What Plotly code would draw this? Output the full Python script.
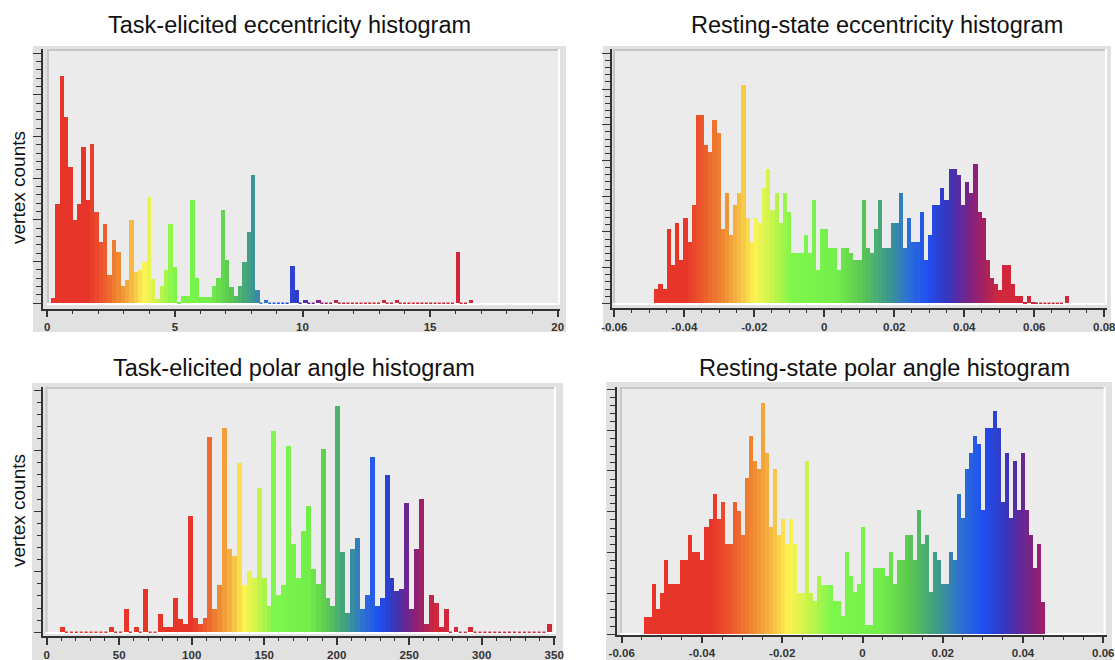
import numpy as np
import plotly.graph_objects as go
from plotly.colors import sample_colorscale

W, H = 1115, 660

# ---------------- histogram data ----------------
# Task-elicited eccentricity (degrees)
task_ecc_start = 0.13
task_ecc_width = 0.1705
task_ecc_counts = [
    6, 119, 273, 224, 164, 100, 119, 187, 124, 191, 109, 73, 95, 34, 76, 61,
    21, 28, 100, 38, 40, 49, 127, 29, 5, 21, 40, 95, 43, 1, 9, 9,
    124, 30, 7, 7, 7, 21, 30, 112, 52, 19, 9, 21, 49, 85, 154, 16,
    0, 4, 0, 0, 0, 0, 0, 45, 16, 0, 4, 0, 0, 4, 0, 0,
    0, 4, 0, 0, 0, 0, 0, 0, 0, 0, 0, 0, 4, 0, 0, 4,
    0, 0, 0, 0, 0, 0, 0, 0, 0, 0, 0, 0, 0, 61, 0, 0, 4,
]

# Resting-state eccentricity (correlation difference)
rest_ecc_start = -0.0487
rest_ecc_width = 0.001184
rest_ecc_counts = [
    20, 27, 20, 104, 53, 112, 61, 119, 86, 137,
    263, 263, 221, 212, 256, 238, 104, 154, 96, 137,
    154, 305, 119, 86, 119, 112, 162, 188, 131, 154,
    112, 154, 128, 71, 71, 71, 96, 71, 145, 47,
    104, 104, 78, 78, 47, 78, 78, 70, 61, 61,
    145, 78, 70, 104, 145, 78, 78, 112, 112, 154,
    78, 119, 86, 86, 128, 61, 96, 137, 137, 162,
    145, 188, 188, 180, 137, 170, 154, 195, 128, 119,
    61, 35, 27, 19, 53, 53, 27, 10, 10, 1,
    10, 2, 0, 0, 0, 0, 0, 0, 0, 10,
]

# Task-elicited polar angle (degrees)
task_pol_start = 9.2
task_pol_width = 3.395
task_pol_counts = [
    4, 0, 0, 0, 0, 0, 0, 0, 0, 0,
    4, 0, 0, 19, 0, 4, 0, 36, 0, 0,
    15, 4, 4, 28, 11, 7, 96, 12, 7, 12,
    161, 19, 39, 169, 69, 63, 140, 39, 51, 45,
    119, 45, 22, 166, 31, 39, 154, 73, 45, 84,
    104, 52, 40, 151, 28, 22, 187, 66, 16, 69,
    78, 19, 31, 145, 22, 28, 130, 45, 34, 36,
    107, 19, 69, 110, 7, 31, 24, 4, 19, 0,
    4, 0, 0, 4, 0, 0, 0, 0, 0, 0,
    0, 0, 0, 0, 0, 0, 0, 0, 0, 7,
]

# Resting-state polar angle (correlation difference)
rest_pol_start = -0.0544
rest_pol_width = 0.000997
rest_pol_counts = [
    21, 21, 62, 31, 51, 91, 62, 62, 62, 91,
    91, 122, 101, 101, 91, 131, 141, 172, 141, 162,
    111, 111, 162, 151, 121, 192, 243, 212, 202, 283,
    222, 131, 202, 121, 141, 111, 141, 111, 51, 51,
    212, 51, 41, 71, 60, 60, 60, 41, 41, 22,
    101, 71, 52, 61, 132, 11, 11, 81, 81, 81,
    71, 101, 61, 91, 91, 121, 121, 91, 152, 111,
    121, 52, 101, 91, 61, 61, 101, 91, 172, 142,
    202, 222, 243, 233, 152, 253, 253, 273, 253, 162,
    222, 142, 212, 152, 222, 152, 122, 81, 111, 40,
]

titles = [
    "Task-elicited eccentricity histogram",
    "Resting-state eccentricity histogram",
    "Task-elicited polar angle histogram",
    "Resting-state polar angle histogram",
]
y_title = "vertex counts"

ecc_tickvals = [0, 5, 10, 15, 20]
ecc_ticktext = ["0", "5", "10", "15", "20"]
rest_ecc_tickvals = [-0.06, -0.04, -0.02, 0, 0.02, 0.04, 0.06, 0.08]
rest_ecc_ticktext = ["-0.06", "-0.04", "-0.02", "0", "0.02", "0.04", "0.06", "0.08"]
pol_tickvals = [0, 50, 100, 150, 200, 250, 300, 350]
pol_ticktext = ["0", "50", "100", "150", "200", "250", "300", "350"]
rest_pol_tickvals = [-0.06, -0.04, -0.02, 0, 0.02, 0.04, 0.06]
rest_pol_ticktext = ["-0.06", "-0.04", "-0.02", "0", "0.02", "0.04", "0.06"]

# rainbow palette used to colour each bin by its value
PALETTE = [
    [0.00, "#e8352a"], [0.06, "#ec5a2c"], [0.12, "#ef8a32"], [0.17, "#f5b842"],
    [0.22, "#fdf352"], [0.28, "#c4f44a"], [0.34, "#7ef64c"], [0.48, "#74ee4a"],
    [0.56, "#5cc850"], [0.64, "#3e9c88"], [0.71, "#2d6fd6"], [0.77, "#1f4ff2"],
    [0.83, "#3538c0"], [0.87, "#5a2a9e"], [0.93, "#951f70"], [1.00, "#d0283a"],
]

# Panel geometry (pixels).  xcal / ycal pin two axis values to pixel
# positions; the axis domains run from the axis lines to the plot edges.
panels = [
    dict(counts=task_ecc_counts, start=task_ecc_start, width=task_ecc_width,
         lo=1.6, hi=11.5, tickvals=ecc_tickvals, ticktext=ecc_ticktext, minor_step=1,
         outer=(33, 46, 566, 332), plot=(47, 49, 560, 305),
         xcal=((0, 47.3), (20, 557.7)), ycal=((0, 303.3), (300, 53.3)),
         xdom=(42.7, 560), ydom=(308.5, 49), ymajor=50, yminor=10,
         title_xy=(290, 25), ylabel_y=188),
    dict(counts=rest_ecc_counts, start=rest_ecc_start, width=rest_ecc_width,
         lo=-0.04, hi=0.05, tickvals=rest_ecc_tickvals, ticktext=rest_ecc_ticktext, minor_step=0.005,
         outer=(603, 46, 1111, 332), plot=(613, 49, 1107, 305),
         xcal=((-0.06, 614.3), (0.08, 1104.3)), ycal=((0, 303.3), (350, 53.3)),
         xdom=(611.5, 1107), ydom=(308.0, 49), ymajor=50, yminor=10,
         title_xy=(877, 25), ylabel_y=None),
    dict(counts=task_pol_counts, start=task_pol_start, width=task_pol_width,
         lo=99, hi=268, tickvals=pol_tickvals, ticktext=pol_ticktext, minor_step=10,
         outer=(32, 383, 563, 660), plot=(45.5, 387, 556, 634),
         xcal=((0, 46.7), (350, 554.2)), ycal=((0, 632.3), (200, 390)),
         xdom=(43.3, 556), ydom=(636.0, 387), ymajor=50, yminor=10,
         title_xy=(294, 368), ylabel_y=511),
    dict(counts=rest_pol_counts, start=rest_pol_start, width=rest_pol_width,
         lo=-0.038, hi=0.05, tickvals=rest_pol_tickvals, ticktext=rest_pol_ticktext, minor_step=0.005,
         outer=(606, 382, 1112, 660), plot=(620, 387, 1105.7, 635),
         xcal=((-0.06, 621.7), (0.06, 1103.3)), ycal=((0, 634.3), (300, 389.3)),
         xdom=(616.7, 1106.5), ydom=(634.5, 387), ymajor=50, yminor=10,
         title_xy=(884, 368), ylabel_y=None),
]

AXIS_COLOR = "#333333"
FONT = "Liberation Sans, Arial, Helvetica, sans-serif"
TICK_FONT = dict(family=FONT, size=11.5, color="#333333", weight="bold")


def px_x(v):
    return v / W


def px_y(v):
    return 1 - v / H


def value_at(cal, pix):
    (v0, p0), (v1, p1) = cal
    return v0 + (pix - p0) * (v1 - v0) / (p1 - p0)


fig = go.Figure()
shapes = []
annotations = []

for i, p in enumerate(panels, start=1):
    sfx = "" if i == 1 else str(i)
    counts = np.asarray(p["counts"], dtype=float)
    n = len(counts)
    left = p["start"] + p["width"] * np.arange(n)
    centers = left + p["width"] / 2
    t = np.clip((centers - p["lo"]) / (p["hi"] - p["lo"]), 0, 1)
    colors = sample_colorscale(PALETTE, list(t))

    fig.add_trace(go.Bar(
        x=centers, y=counts, width=p["width"],
        marker=dict(color=colors, line=dict(width=0)),
        xaxis="x" + sfx, yaxis="y" + sfx, showlegend=False, hoverinfo="skip",
    ))

    # panel frame and recessed plot area
    ox0, oy0, ox1, oy1 = p["outer"]
    shapes.append(dict(type="rect", xref="paper", yref="paper", layer="below",
                       x0=px_x(ox0), x1=px_x(ox1), y0=px_y(oy1), y1=px_y(oy0),
                       fillcolor="#e1e1e1", line=dict(width=0)))
    px0, py0, px1, py1 = p["plot"]
    shapes.append(dict(type="rect", xref="paper", yref="paper", layer="below",
                       x0=px_x(px0), x1=px_x(px1), y0=px_y(py1), y1=px_y(py0),
                       fillcolor="#ebebeb", line=dict(width=0)))
    # bevel: dark top/left, white bottom/right
    for (ax0, ay0, ax1, ay1, col) in [
        (px0, py0 + 1, px1, py0 + 1, "#c6c6c6"),
        (px0 + 1, py0, px0 + 1, py1, "#c6c6c6"),
        (px0, py1 - 1, px1, py1 - 1, "#ffffff"),
        (px1 - 1, py0, px1 - 1, py1, "#ffffff"),
    ]:
        shapes.append(dict(type="line", xref="paper", yref="paper", layer="below",
                           x0=px_x(ax0), x1=px_x(ax1), y0=px_y(ay0), y1=px_y(ay1),
                           line=dict(color=col, width=2)))

    # empty bins are marked by a thin dotted baseline in their colour
    for k in np.where(counts == 0)[0]:
        shapes.append(dict(type="line", xref="x" + sfx, yref="y" + sfx, layer="below",
                           x0=left[k], x1=left[k] + p["width"], y0=0, y1=0,
                           line=dict(color=colors[k], width=1.5, dash="dot")))

    minor_vals = np.round(np.arange(p["tickvals"][0], p["tickvals"][-1] + p["minor_step"] / 2,
                                    p["minor_step"]), 6)
    xd0, xd1 = p["xdom"]
    yd_bottom, yd_top = p["ydom"]
    xrange = [value_at(p["xcal"], xd0), value_at(p["xcal"], xd1)]
    yrange = [value_at(p["ycal"], yd_bottom), value_at(p["ycal"], yd_top)]

    fig.update_layout({
        "xaxis" + sfx: dict(
            domain=[px_x(xd0), px_x(xd1)], range=xrange, anchor="y" + sfx,
            showline=True, linecolor=AXIS_COLOR, linewidth=1.5,
            ticks="outside", ticklen=7, tickwidth=1.5, tickcolor=AXIS_COLOR,
            tickmode="array", tickvals=p["tickvals"], ticktext=p["ticktext"],
            minor=dict(tickmode="array", tickvals=list(minor_vals), ticks="outside",
                       ticklen=3.5, tickwidth=1.2, tickcolor=AXIS_COLOR),
            tickfont=TICK_FONT, ticklabeloverflow="allow",
            showgrid=False, zeroline=False, fixedrange=True, automargin=False,
        ),
        "yaxis" + sfx: dict(
            domain=[px_y(yd_bottom), px_y(yd_top)], range=yrange, anchor="x" + sfx,
            showline=True, linecolor=AXIS_COLOR, linewidth=1.5,
            ticks="outside", ticklen=8, tickwidth=1.3, tickcolor=AXIS_COLOR,
            tickmode="linear", tick0=0, dtick=p["ymajor"],
            minor=dict(tickmode="linear", tick0=0, dtick=p["yminor"], ticks="outside",
                       ticklen=4.5, tickwidth=1.1, tickcolor=AXIS_COLOR),
            showticklabels=False, showgrid=False, zeroline=False, fixedrange=True,
            automargin=False,
        ),
    })

    tx, ty = p["title_xy"]
    annotations.append(dict(text=titles[i - 1], xref="paper", yref="paper",
                            x=px_x(tx), y=px_y(ty), xanchor="center", yanchor="middle",
                            showarrow=False, font=dict(family=FONT, size=23.5, color="#111111")))
    if p["ylabel_y"] is not None:
        annotations.append(dict(text=y_title, xref="paper", yref="paper",
                                x=px_x(18), y=px_y(p["ylabel_y"]), xanchor="center", yanchor="middle",
                                textangle=-90, showarrow=False,
                                font=dict(family=FONT, size=19, color="#111111")))

fig.update_layout(
    width=W, height=H,
    margin=dict(l=0, r=0, t=0, b=0, pad=0, autoexpand=False),
    paper_bgcolor="white", plot_bgcolor="rgba(0,0,0,0)",
    bargap=0, showlegend=False,
    shapes=shapes, annotations=annotations,
)

fig.write_html("out.html")
